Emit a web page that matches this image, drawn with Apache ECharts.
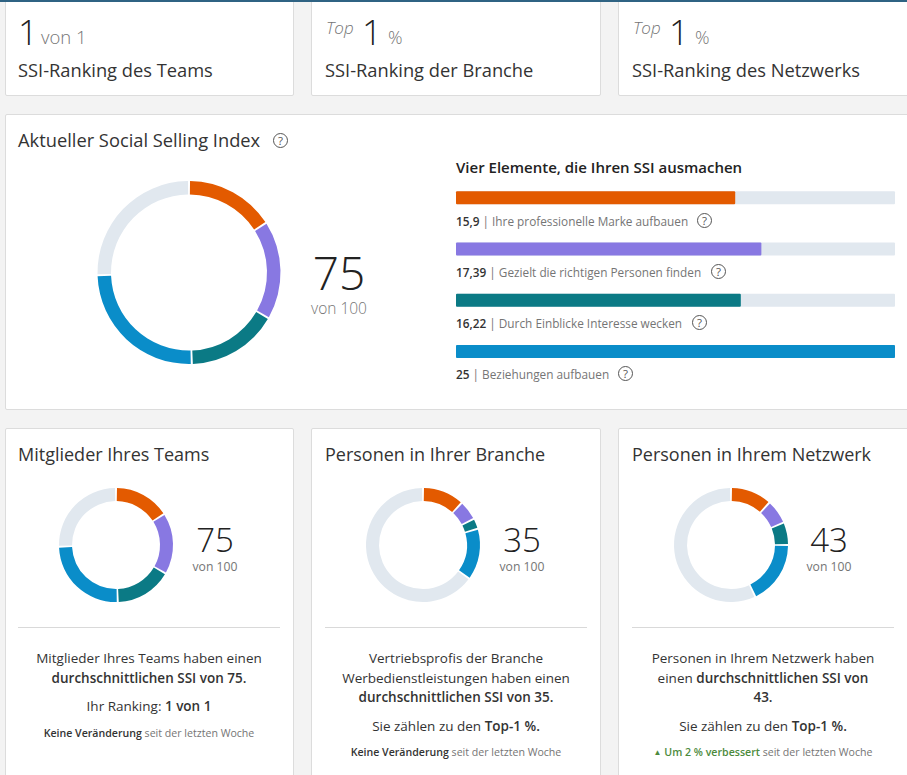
<!DOCTYPE html>
<html lang="de">
<head>
<meta charset="utf-8">
<title>SSI</title>
<script src="https://cdn.jsdelivr.net/npm/echarts@6/dist/echarts.min.js"></script>
<style>
  html, body { margin: 0; padding: 0; background: #f3f3f3; overflow: hidden; }
  body { width: 907px; height: 775px; position: relative; font-family: "Open Sans", "Noto Sans", sans-serif; color: #333; }
  .card { position: absolute; background: #fff; border: 1px solid #dcdcdc; border-radius: 2px; box-sizing: border-box; }
  .t { position: absolute; white-space: nowrap; }
  .c { position: absolute; text-align: center; white-space: nowrap; }
  .rule { position: absolute; height: 1px; background: #d9d9d9; }
  .big { font-weight: 300; color: #222; }
  .grey { color: #757575; }
  b { font-weight: 600; color: #333; }
  .q { position: absolute; width: 13px; height: 13px; border: 1.5px solid #555; border-radius: 50%; font-size: 11.5px; line-height: 13px; text-align: center; color: #555; }
  #top_line { position: absolute; left: 0; top: 0; width: 907px; height: 2px; background: #2f6383; }
  #chart { position: absolute; left: 0; top: 0; width: 907px; height: 775px; }
</style>
</head>
<body>
<div class="card" style="left:5px;top:-4px;width:289px;height:100px"></div>
<div class="card" style="left:311px;top:-4px;width:290px;height:100px"></div>
<div class="card" style="left:618px;top:-4px;width:294px;height:100px"></div>
<div class="card" style="left:5px;top:114px;width:907px;height:296px"></div>
<div class="card" style="left:5px;top:428px;width:289px;height:360px"></div>
<div class="card" style="left:311px;top:428px;width:290px;height:360px"></div>
<div class="card" style="left:618px;top:428px;width:294px;height:360px"></div>
<div id="top_line"></div>

<div class="t big" style="left:18px;top:8px;font-size:35px">1</div>
<div class="t grey" style="left:41px;top:24px;font-size:18.5px;font-weight:300">von 1</div>
<div class="t" style="left:18px;top:57px;font-size:18.3px;">SSI-Ranking des Teams</div>

<div class="t grey" style="left:326px;top:16px;font-size:17px;font-style:italic;font-weight:300">Top</div>
<div class="t big" style="left:362px;top:8px;font-size:35px">1</div>
<div class="t grey" style="left:388px;top:25px;font-size:18px;font-weight:300">%</div>
<div class="t" style="left:325px;top:57px;font-size:18.3px">SSI-Ranking der Branche</div>

<div class="t grey" style="left:633px;top:16px;font-size:17px;font-style:italic;font-weight:300">Top</div>
<div class="t big" style="left:669px;top:8px;font-size:35px">1</div>
<div class="t grey" style="left:695px;top:25px;font-size:18px;font-weight:300">%</div>
<div class="t" style="left:632px;top:57px;font-size:18.3px">SSI-Ranking des Netzwerks</div>

<div class="t" style="left:18px;top:127px;font-size:18.3px">Aktueller Social Selling Index</div>
<div class="q" style="left:273px;top:133px">?</div>
<div class="c big" style="left:289px;top:239px;width:100px;font-size:46px;line-height:66px">75</div>
<div class="c grey" style="left:289px;top:297px;width:100px;font-size:15.5px;font-weight:300">von 100</div>

<div class="t" style="left:456px;top:157px;font-size:15px;font-weight:600;color:#222">Vier Elemente, die Ihren SSI ausmachen</div>
<div id="bar_labels"></div>

<div class="t" style="left:18px;top:442px;font-size:18px">Mitglieder Ihres Teams</div>
<div class="t" style="left:325px;top:442px;font-size:18px">Personen in Ihrer Branche</div>
<div class="t" style="left:632px;top:442px;font-size:18px">Personen in Ihrem Netzwerk</div>

<div class="c big" style="left:165px;top:516px;width:100px;font-size:33px;line-height:47px">75</div>
<div class="c grey" style="left:165px;top:558px;width:100px;font-size:12.2px">von 100</div>
<div class="c big" style="left:472px;top:516px;width:100px;font-size:33px;line-height:47px">35</div>
<div class="c grey" style="left:472px;top:558px;width:100px;font-size:12.2px">von 100</div>
<div class="c big" style="left:779px;top:516px;width:100px;font-size:33px;line-height:47px">43</div>
<div class="c grey" style="left:779px;top:558px;width:100px;font-size:12.2px">von 100</div>

<div class="rule" style="left:18px;top:627px;width:262px"></div>
<div class="rule" style="left:325px;top:627px;width:262px"></div>
<div class="rule" style="left:632px;top:627px;width:262px"></div>

<div class="c" style="left:18px;top:649px;width:262px;font-size:13.5px;line-height:19.5px">Mitglieder Ihres Teams haben einen<br><b>durchschnittlichen SSI von 75.</b></div>
<div class="c" style="left:18px;top:697px;width:262px;font-size:13.5px;line-height:19.5px">Ihr Ranking: <b>1 von 1</b></div>
<div class="c grey" style="left:18px;top:725px;width:262px;font-size:10.6px;line-height:16px"><b>Keine Veränderung</b> seit der letzten Woche</div>

<div class="c" style="left:325px;top:649px;width:262px;font-size:13.5px;line-height:19.5px">Vertriebsprofis der Branche<br>Werbedienstleistungen haben einen<br><b>durchschnittlichen SSI von 35.</b></div>
<div class="c" style="left:325px;top:717px;width:262px;font-size:13.5px;line-height:19.5px">Sie zählen zu den <b>Top-1 %.</b></div>
<div class="c grey" style="left:325px;top:744px;width:262px;font-size:10.6px;line-height:16px"><b>Keine Veränderung</b> seit der letzten Woche</div>

<div class="c" style="left:632px;top:649px;width:262px;font-size:13.5px;line-height:19.5px">Personen in Ihrem Netzwerk haben<br>einen <b>durchschnittlichen SSI von<br>43.</b></div>
<div class="c" style="left:632px;top:717px;width:262px;font-size:13.5px;line-height:19.5px">Sie zählen zu den <b>Top-1 %.</b></div>
<div class="c grey" style="left:632px;top:744px;width:262px;font-size:10.6px;line-height:16px"><b style="color:#4c8a3c"><span style="font-size:8px;vertical-align:1px">▲</span> Um 2 % verbessert</b> seit der letzten Woche</div>

<div id="chart"></div>

<script>
  const elementNames = ['Ihre professionelle Marke aufbauen', 'Gezielt die richtigen Personen finden', 'Durch Einblicke Interesse wecken', 'Beziehungen aufbauen'];
  const elementLabels = ['15,9', '17,39', '16,22', '25'];
  const elementValues = [15.9, 17.39, 16.22, 25];
  const teamValues = [15.9, 17.39, 16.22, 25];
  const brancheValues = [11.8, 5.6, 3.0, 14.6];
  const netzwerkValues = [11.7, 6.9, 6.4, 18];
  const elementMax = 25;
  const scoreMax = 100;

  const colors = ['#e35a00', '#8878e2', '#0b7a85', '#0a8dc9'];
  const restColor = '#e1e8ef';

  // labels under the bars
  const labelBox = document.getElementById('bar_labels');
  const labelTops = [213, 264, 315, 366];
  const iconLefts = [697, 711, 692, 618];
  elementNames.forEach((name, i) => {
    labelBox.insertAdjacentHTML('beforeend',
      `<div class="t grey" style="left:456px;top:${labelTops[i]}px;font-size:11.8px"><b>${elementLabels[i]}</b> | ${name}</div>` +
      `<div class="q" style="left:${iconLefts[i]}px;top:${labelTops[i]}px">?</div>`);
  });

  function donut(center, radius, inner, values, padAngle) {
    const used = values.reduce((a, b) => a + b, 0);
    const slices = values.map((v, i) => ({ value: v, itemStyle: { color: colors[i] } }));
    slices.push({ value: scoreMax - used, itemStyle: { color: restColor } });
    return {
      type: 'pie',
      center: center,
      radius: [inner, radius],
      startAngle: 90,
      clockwise: true,
      padAngle: padAngle,
      silent: true,
      label: { show: false },
      labelLine: { show: false },
      data: slices
    };
  }

  const chart = echarts.init(document.getElementById('chart'), null, { renderer: 'canvas' });
  chart.setOption({
    backgroundColor: 'transparent',
    animation: false,
    grid: { left: 456, width: 439, top: 172, height: 205 },
    xAxis: { type: 'value', min: 0, max: elementMax, show: false },
    yAxis: { type: 'category', inverse: true, show: false, data: elementNames },
    series: [
      {
        type: 'bar',
        barWidth: 13,
        silent: true,
        showBackground: true,
        backgroundStyle: { color: restColor, borderRadius: 1 },
        data: elementValues.map((v, i) => ({ value: v, itemStyle: { color: colors[i], borderRadius: 1 } }))
      },
      donut([189, 272.5], 91.5, 78, elementValues, 1.3),
      donut([116, 545], 57, 44, teamValues, 2),
      donut([423, 545], 57, 44, brancheValues, 2),
      donut([731, 545], 57, 44, netzwerkValues, 2)
    ]
  });
</script>
</body>
</html>
